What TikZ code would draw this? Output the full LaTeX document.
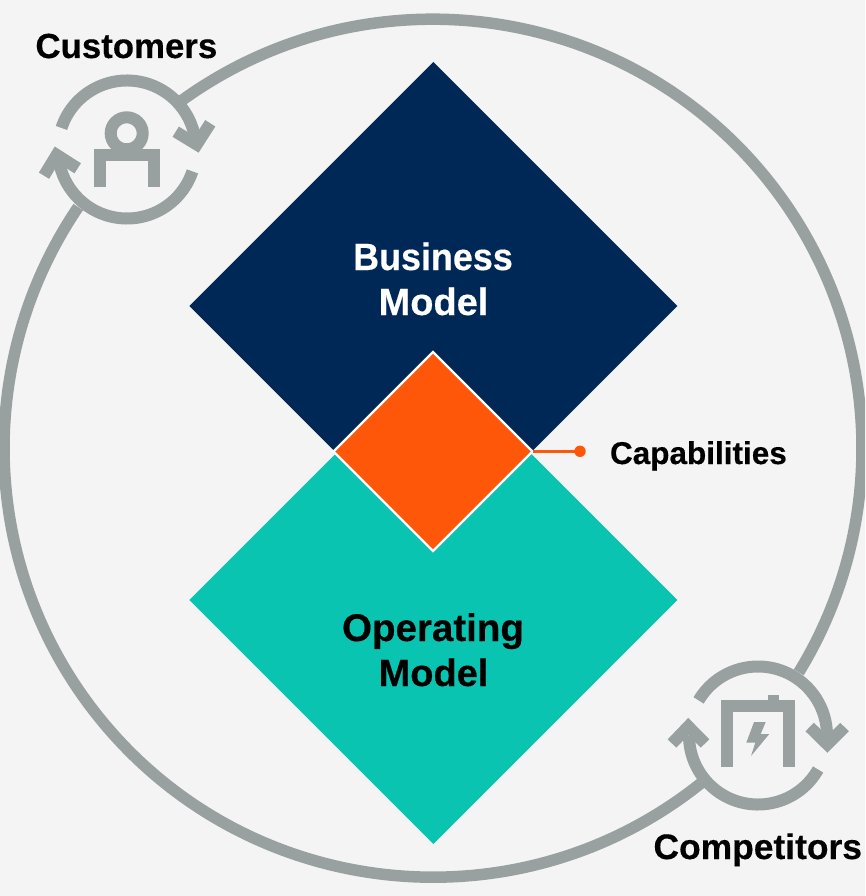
\documentclass[tikz,border=0pt]{standalone}
\usepackage{fontspec}
\usepackage{graphicx}
\setmainfont{Liberation Sans}[BoldFeatures={FakeBold=0.35}]
\usetikzlibrary{shapes.geometric}
\definecolor{bgc}{HTML}{F4F4F4}
\definecolor{navyc}{HTML}{002856}
\definecolor{tealc}{HTML}{08C4B0}
\definecolor{orangec}{HTML}{FF570A}
\definecolor{grayc}{HTML}{99A1A0}
\tikzset{
  dia/.style={diamond,aspect=1,inner sep=0pt,outer sep=0pt},
  ring/.style={draw=grayc,line width=12pt,fill=none,line join=miter,miter limit=10},
  big/.style={draw=grayc,line width=11.5pt,fill=none},
  lbl/.style={inner sep=0pt,outer sep=0pt,font=\bfseries,text=black},
  wht/.style={lbl,text=white}
}
\newcommand{\fs}[1]{\fontsize{#1}{#1}\selectfont}
\begin{document}
\begin{tikzpicture}[x=1pt,y=-1pt]
\path[use as bounding box,fill=bgc] (0,0) rectangle (865,896);
\clip (0,0) rectangle (865,896);
% outer ring
\draw[big,shift={(433,448.2)}] (-125.8:429) arc[start angle=-125.8,end angle=31.5,radius=429];
\draw[big,shift={(433,448.2)}] (51.1:429) arc[start angle=51.1,end angle=214.2,radius=429];
% diamonds
\node[dia,fill=navyc,minimum width=488pt,minimum height=488pt] (bm) at (433.3,306) {};
\node[dia,fill=tealc,minimum width=488pt,minimum height=488pt] (om) at (433.3,600) {};
\coordinate (dot) at (580,451.3);
\node[dia,fill=orangec,draw=white,line width=2.4pt,minimum width=199pt,minimum height=199pt] (cap) at (433,451.5) {};
\draw[draw=orangec,line width=3pt] (cap.east |- dot) -- (dot);
\fill[orangec] (dot) circle[radius=5.7];
% customers icon
\draw[ring,shift={(127,149.5)}] (198.2:69) arc[start angle=198.2,end angle=356,radius=69];
\draw[ring,shift={(127,149.5)}] (18.5:69) arc[start angle=18.5,end angle=175.5,radius=69];
\draw[ring] (175.7,131.7) -- (196.7,144.5) -- (210.3,123.3);
\draw[ring] (44,175.7) -- (56.7,154.9) -- (77.7,168.3);
\draw[ring] (126.7,133.3) circle[radius=16];
\draw[ring] (100.3,187.3) -- (100.3,155.3) -- (153.7,155.3) -- (153.7,187.3);
% competitors icon
\draw[ring,shift={(758,735.5)}] (210.6:69) arc[start angle=210.6,end angle=363,radius=69];
\draw[ring,shift={(758,735.5)}] (29.5:69) arc[start angle=29.5,end angle=180,radius=69];
\draw[ring] (809.7,727) -- (827.3,744.3) -- (844.5,727);
\draw[ring] (672,743.5) -- (688.3,726.5) -- (705,743.5);
\draw[ring] (727.3,767.3) -- (727.3,706.3) -- (788.7,706.3) -- (788.7,767.3);
\fill[grayc] (768,695) rectangle (778.7,703);
\fill[grayc] (754,722) -- (765.7,722) -- (760.7,734) -- (769.3,734) -- (751,756) -- (755.3,742.7) -- (746.3,742.7) -- cycle;
% labels
\node[wht,anchor=base] (t1) at (433,270) {\fs{38}\scalebox{.945}[1]{Business}};
\node[wht,anchor=base] (t2) at (433.5,315) {\fs{38}Model};
\node[lbl,anchor=base] (t3) at (433,641) {\fs{38.5}Operating};
\node[lbl,anchor=base] (t4) at (433.5,686) {\fs{38}Model};
\node[lbl,anchor=base west] (t5) at (35.5,58) {\fs{34.8}Customers};
\node[lbl,anchor=base west] (t6) at (653.5,859) {\fs{35.4}Competitors};
\node[lbl,anchor=base west] (t7) at (610,464) {\fs{31.5}Capabilities};
\end{tikzpicture}
\end{document}
